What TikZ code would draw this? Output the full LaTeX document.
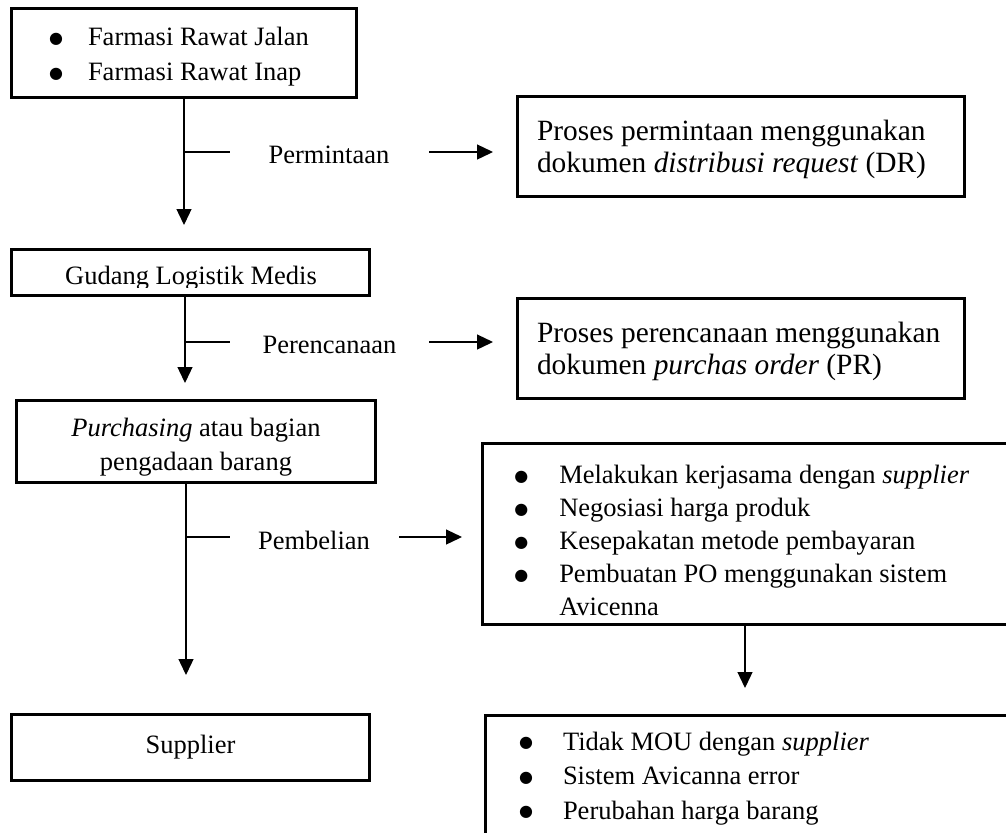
\documentclass[tikz,border=0pt]{standalone}
\usepackage{fontspec}
\setmainfont{Liberation Serif}
\newfontfamily\symfont{DejaVu Sans}
\usepackage{tikz}
\usetikzlibrary{arrows.meta}
\newcommand{\fsz}[2]{\fontsize{#1}{#2}\selectfont}
\newcommand{\blt}{\raisebox{1.2pt}{\symfont\fontsize{8}{10}\selectfont ●}}
\newcommand{\itm}[2][22pt]{\makebox[#1][l]{\blt}#2}
\tikzset{
  box/.style={draw, line width=1.5pt, inner sep=0pt},
  link/.style={line width=0.65pt},
  arr/.style={link, -{Triangle[length=8pt,width=7.5pt]}},
  lbl/.style={inner sep=0pt, font=\fsz{13.25}{16}},
}

\begin{document}
\begin{tikzpicture}[x=0.5pt,y=-0.5pt]
  \useasboundingbox (0,0) rectangle (1006,832);

  % left column
  \node[box, minimum width=172.5pt, minimum height=44.5pt, text width=135pt,
        align=flush left, font=\fsz{13.25}{17.5}] (farmasi) at (184,53)
        {\itm[19.5pt]{\rule{0pt}{13pt}Farmasi Rawat Jalan}\\ \itm[19.5pt]{Farmasi Rawat Inap}};
  \node[box, minimum width=179pt, minimum height=23pt] (gudang) at (190.5,272.5) {};
  \begin{scope}
    \clip (12,250) rectangle (369,287);
    \node[anchor=base, font=\fsz{13.25}{16}] (gudangtxt) at (191,284) {Gudang Logistik Medis};
  \end{scope}
  \node[box, minimum width=179.5pt, minimum height=41pt, align=flush center,
        font=\fsz{13.25}{17}] (purch) at (196,441.5)
        {\rule{0pt}{15pt}\textit{Purchasing} atau bagian\\ pengadaan barang};
  \node[box, minimum width=179pt, minimum height=33pt, font=\fsz{13.25}{16}]
        (supplier) at (190.5,747.5) {Supplier};

  % right column
  \node[box, minimum width=223.5pt, minimum height=50pt, text width=204pt,
        align=flush left, font=\fsz{14.7}{16}] (dr) at (741,146.5)
        {\rule{0pt}{13pt}Proses permintaan menggunakan\\ dokumen \textit{distribusi request} (DR)};
  \node[box, minimum width=223.5pt, minimum height=50pt, text width=204pt,
        align=flush left, font=\fsz{14.7}{16}] (pr) at (741,348.5)
        {\rule{0pt}{13pt}Proses perencanaan menggunakan\\ dokumen \textit{purchas order} (PR)};
  \node[box, minimum width=264.75pt, minimum height=90.5pt, text width=233pt,
        align=flush left, font=\fsz{13.25}{16.5}] (kerjasama) at (747.25,534)
        {\itm[22.5pt]{\rule{0pt}{16pt}Melakukan kerjasama dengan \textit{supplier}}\\
         \itm[22.5pt]{Negosiasi harga produk}\\
         \itm[22.5pt]{Kesepakatan metode pembayaran}\\
         \itm[22.5pt]{Pembuatan PO menggunakan sistem}\\
         \hspace*{22.5pt}Avicenna};
  \node[box, minimum width=263.25pt, minimum height=62.75pt, text width=229.75pt,
        align=flush left, font=\fsz{13.25}{17.25}] (kendala) at (748.75,778.25)
        {\itm{Tidak MOU dengan \textit{supplier}}\\
         \itm{Sistem Avicanna error}\\
         \itm{Perubahan harga barang}};

  % permintaan
  \coordinate (t1) at (184,225);
  \coordinate (b1) at (185,152);
  \draw[arr] (farmasi.south) -- (t1);
  \draw[link] (b1) -- ++(45,0);
  \node[lbl] (permintaan) at (329,155) {Permintaan};
  \draw[arr, shorten <=19.8pt, shorten >=11.5pt] (b1 -| permintaan.east) -- (b1 -| dr.west);

  % perencanaan
  \coordinate (t2) at (185,383);
  \coordinate (b2) at (186,342);
  \draw[arr] (gudang.south -| t2) -- (t2);
  \draw[link] (b2) -- ++(44,0);
  \node[lbl] (perencanaan) at (329.5,345) {Perencanaan};
  \draw[arr, shorten <=16.25pt, shorten >=11.5pt] (b2 -| perencanaan.east) -- (b2 -| pr.west);

  % pembelian
  \coordinate (t3) at (186,675);
  \coordinate (b3) at (187,537);
  \draw[arr] (t3 |- purch.south) -- (t3);
  \draw[link] (b3) -- ++(43,0);
  \node[lbl] (pembelian) at (314,540) {Pembelian};
  \draw[arr, shorten <=14.5pt, shorten >=9.5pt] (b3 -| pembelian.east) -- (b3 -| kerjasama.west);

  % kendala
  \coordinate (t4) at (745,688);
  \draw[arr] (t4 |- kerjasama.south) -- (t4);
\end{tikzpicture}
\end{document}
